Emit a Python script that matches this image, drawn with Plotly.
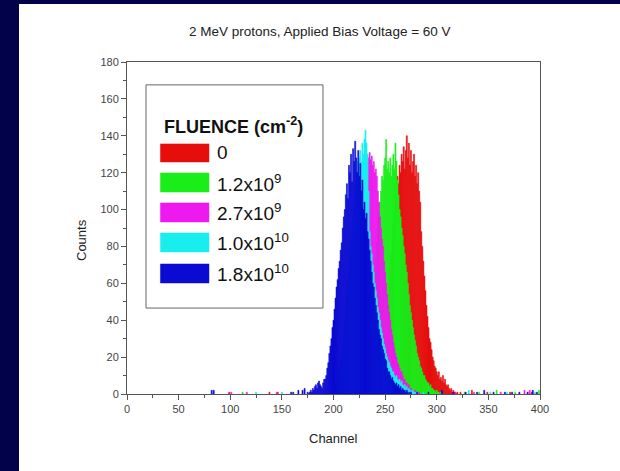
import plotly.graph_objects as go

# ---------------- data ----------------
fluence_labels = ["0", "1.2x10<sup>9</sup>", "2.7x10<sup>9</sup>", "1.0x10<sup>10</sup>", "1.8x10<sup>10</sup>"]
colors = ["#e60d0d", "#19ee19", "#ee19ee", "#19eeee", "#0a0ad2"]

# main peak bodies: first channel + counts per channel
red_start = 240
red_counts = [2,3,4,5,7,9,12,15,19,24,30,36,44,52,60,68,76,84,92,100,106,112,118,114,124,120,130,126,134,122,
              132,140,128,136,124,132,120,126,130,118,124,114,120,110,104,88,80,72,64,56,48,42,36,30,28,24,20,18,15,14,
              12,10,12,8,9,7,10,6,8,5,4,5,3,2,3,1,2,1,1,0,1]
green_start = 225
green_counts = [2,3,4,5,7,9,12,15,19,24,30,36,42,50,58,66,74,82,90,98,104,110,118,116,124,128,138,122,126,120,
                128,118,124,130,122,136,126,116,108,100,96,90,86,80,76,70,66,60,54,48,44,40,36,32,29,26,22,20,18,15,
                14,12,10,10,8,7,6,6,4,5,3,3,2,2,1,2,1,1,0,1]
magenta_start = 210
magenta_counts = [2,3,4,6,8,11,14,18,24,30,36,44,52,60,68,76,84,92,100,106,112,118,122,126,128,131,127,129,124,126,
                  120,122,118,110,104,96,90,84,80,72,66,60,54,48,44,40,35,32,28,25,22,20,17,16,14,12,12,10,8,8,
                  6,6,4,5,3,3,2,2,1,2,1,1,0,1]
cyan_start = 200
cyan_counts = [2,3,4,6,8,10,14,18,22,28,34,40,46,54,60,68,76,82,90,96,104,110,116,120,126,128,132,126,136,130,
               138,143,136,130,110,88,80,76,70,66,60,56,52,47,44,40,36,33,30,27,25,22,20,18,17,15,14,12,12,10,
               9,10,8,7,8,6,7,5,4,5,3,4,2,3,2,2,1,2,1,1,0,1]
blue_start = 175
blue_counts = [1,0,1,2,1,3,2,4,5,3,6,7,5,4,3,6,8,8,10,14,17,22,26,30,36,40,46,52,58,62,
               68,72,78,82,90,96,100,108,114,106,124,120,130,115,133,126,137,128,120,132,118,125,110,116,100,104,95,98,88,84,
               78,72,66,60,58,52,48,44,40,35,32,30,26,24,22,19,18,14,12,12,10,8,9,7,6,5,6,4,5,3,
               4,2,3,2,2,1,2,1,0,1,1]

# sparse low-count channels far from the peaks
red_sparse_ch = [99, 138, 146, 323, 334, 349, 371, 392]
red_sparse = [1, 1, 1, 1, 2, 1, 1, 1]
green_sparse_ch = [112, 327, 341, 358, 376, 399]
green_sparse = [1, 1, 1, 2, 1, 2]
magenta_sparse_ch = [101, 116, 145, 318, 336, 362, 385, 390]
magenta_sparse = [1, 1, 1, 1, 1, 1, 2, 2]
cyan_sparse_ch = [125, 150, 287, 331, 352, 368, 395]
cyan_sparse = [1, 1, 1, 2, 1, 1, 1]
blue_sparse_ch = [82, 84, 159, 161, 166, 170, 172, 281, 292, 305, 316, 328, 339, 346, 355, 366, 373, 380, 388, 393, 397]
blue_sparse = [2, 2, 1, 1, 2, 2, 3, 1, 1, 2, 1, 1, 1, 2, 1, 1, 1, 1, 1, 2, 1]

series = [
    (red_start, red_counts, red_sparse_ch, red_sparse),
    (green_start, green_counts, green_sparse_ch, green_sparse),
    (magenta_start, magenta_counts, magenta_sparse_ch, magenta_sparse),
    (cyan_start, cyan_counts, cyan_sparse_ch, cyan_sparse),
    (blue_start, blue_counts, blue_sparse_ch, blue_sparse),
]

title_text = "2 MeV protons, Applied Bias Voltage = 60 V"
x_title = "Channel"
y_title = "Counts"
legend_title = "FLUENCE (cm<sup>-2</sup>)"

# ---------------- figure ----------------
W, H = 620, 471
L, R, T, B = 127, 80, 62, 77
pw, ph = W - L - R, H - T - B

def px_x(p):
    return (p - L) / pw

def px_y(p):
    return (H - B - p) / ph

FONT = "Liberation Sans, Arial, sans-serif"
fig = go.Figure()

for (start, counts, sch, sc), col, name in zip(series, colors, fluence_labels):
    xs = [start + i for i in range(len(counts))] + list(sch)
    ys = list(counts) + list(sc)
    fig.add_trace(go.Bar(x=xs, y=ys, width=1.0, marker=dict(color=col, line=dict(width=0.6, color=col)),
                         name=name, showlegend=False, hoverinfo="skip"))

shapes = []
# white page on navy background (navy strips on left and top)
shapes.append(dict(type="rect", xref="paper", yref="paper", x0=px_x(19), x1=px_x(W + 5),
                   y0=px_y(H + 5), y1=px_y(4), fillcolor="white", line=dict(width=0), layer="below"))

# legend box (data coordinates)
shapes.append(dict(type="rect", xref="x", yref="y", x0=18.4, x1=189.8, y0=46.6, y1=167.6,
                   line=dict(color="#666666", width=1), fillcolor="rgba(0,0,0,0)", layer="above"))
sw_y = [(125.8, 135.6), (109.5, 119.8), (93.3, 103.6), (77.0, 87.3), (60.2, 70.5)]
annotations = []
for (y0, y1), col, lab in zip(sw_y, colors, fluence_labels):
    shapes.append(dict(type="rect", xref="x", yref="y", x0=32.4, x1=79.4, y0=y0, y1=y1,
                       fillcolor=col, line=dict(color=col, width=0.5), layer="above"))
    annotations.append(dict(x=85.2, y=(y0 + y1) / 2, xref="x", yref="y", text=lab, showarrow=False,
                            xanchor="left", yanchor="middle", font=dict(family=FONT, size=19, color="#111111")))
annotations.append(dict(x=33.9, y=145.5, xref="x", yref="y", text="<b>" + legend_title + "</b>", showarrow=False,
                        xanchor="left", yanchor="middle", font=dict(family=FONT, size=18, color="#111111")))

annotations.append(dict(x=px_x(320), y=px_y(32), xref="paper", yref="paper", text=title_text, showarrow=False,
                        xanchor="center", yanchor="middle", font=dict(family=FONT, size=13.5, color="#222222")))
annotations.append(dict(x=px_x(333), y=px_y(438), xref="paper", yref="paper", text=x_title, showarrow=False,
                        xanchor="center", yanchor="middle", font=dict(family=FONT, size=13, color="#222222")))
annotations.append(dict(x=px_x(81), y=px_y(240), xref="paper", yref="paper", text=y_title, showarrow=False,
                        textangle=-90, xanchor="center", yanchor="middle",
                        font=dict(family=FONT, size=13, color="#222222")))

axis_common = dict(showgrid=False, zeroline=False, showline=True, linecolor="#555555", linewidth=1,
                   mirror=True, ticks="outside", ticklen=5, tickcolor="#555555", tickwidth=1,
                   tickfont=dict(family=FONT, size=11, color="#444444"))

fig.update_layout(
    width=W, height=H,
    margin=dict(l=L, r=R, t=T, b=B, pad=0),
    paper_bgcolor="#02024a",
    plot_bgcolor="white",
    barmode="overlay",
    bargap=0,
    showlegend=False,
    shapes=shapes,
    annotations=annotations,
    xaxis=dict(range=[0, 400], tickvals=[0, 50, 100, 150, 200, 250, 300, 350, 400],
               minor=dict(dtick=25, tick0=0, ticks="outside", ticklen=3, tickcolor="#555555"),
               **axis_common),
    yaxis=dict(range=[0, 180], tickvals=[0, 20, 40, 60, 80, 100, 120, 140, 160, 180],
               minor=dict(dtick=10, tick0=0, ticks="outside", ticklen=3, tickcolor="#555555"),
               **axis_common),
)

fig.write_html("out.html",
               config={"displayModeBar": False, "staticPlot": True},
               post_script="document.body.style.margin='0';document.body.style.padding='0';"
                           "document.body.style.overflow='hidden';")
